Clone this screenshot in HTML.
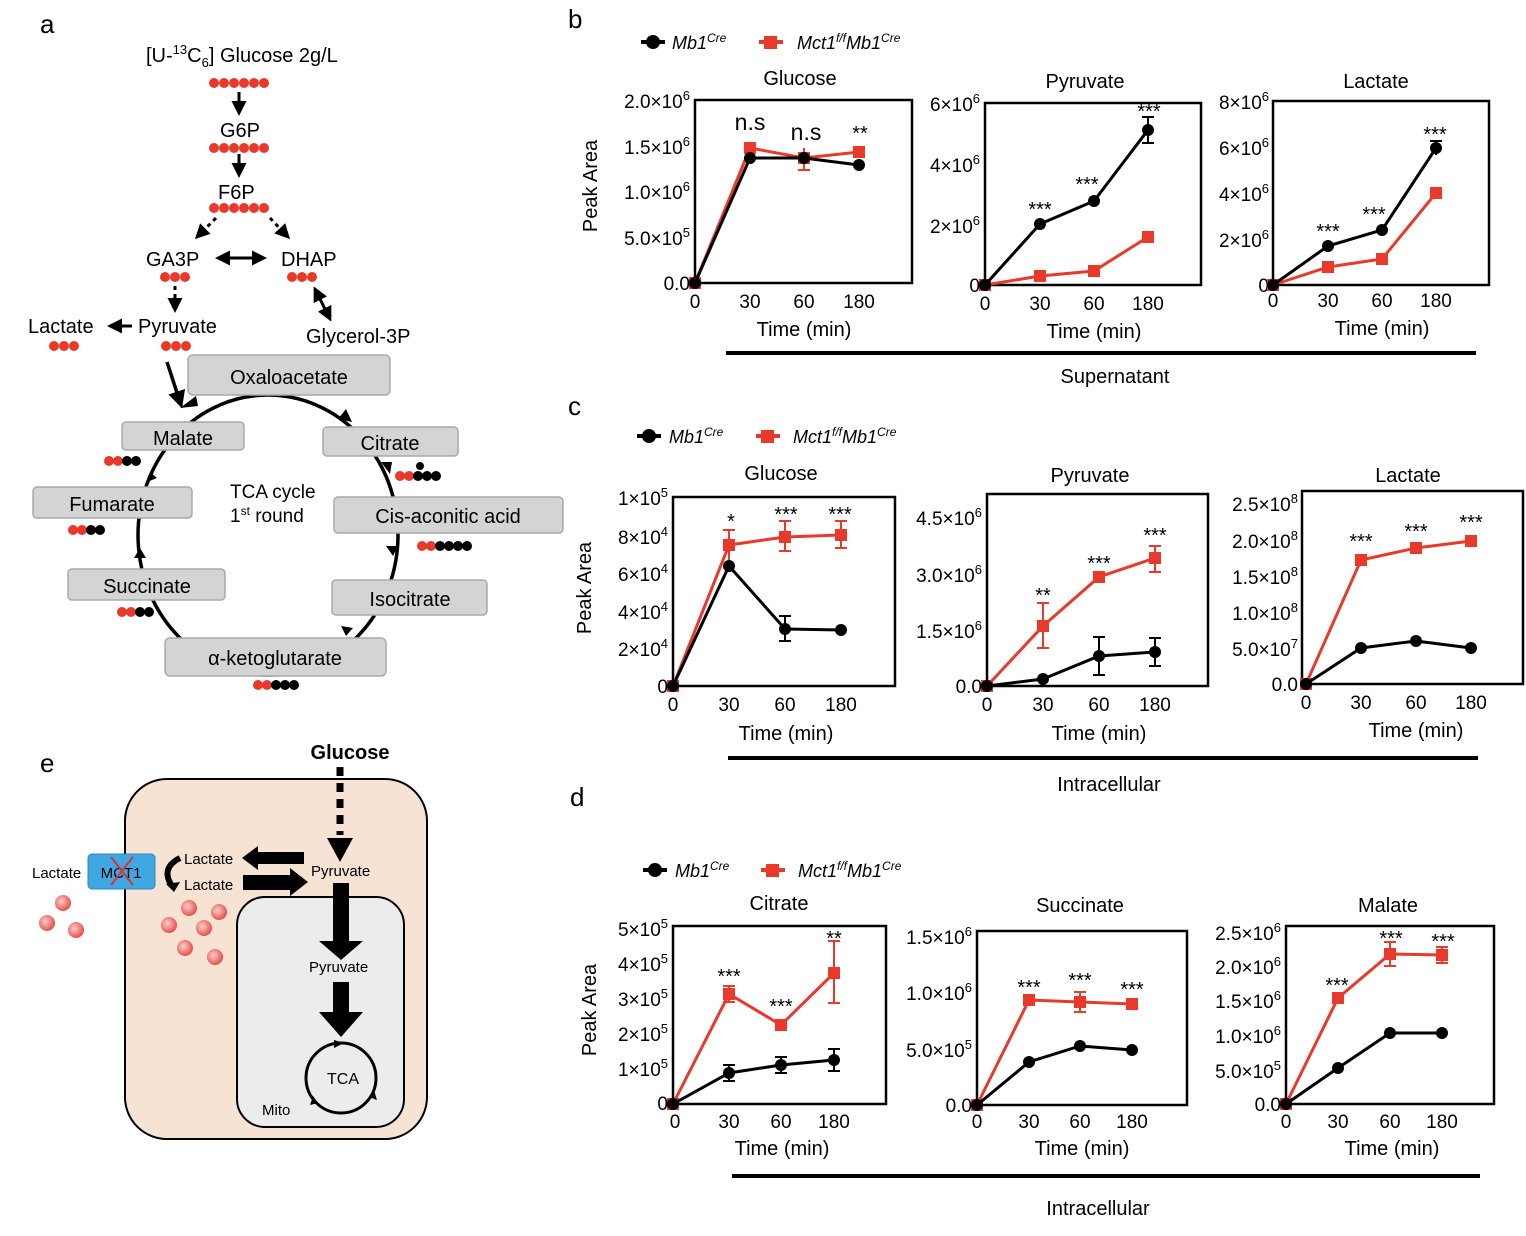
<!DOCTYPE html>
<html><head><meta charset="utf-8"><style>
body{margin:0;background:#fff}
svg{display:block;font-family:"Liberation Sans",Arial,sans-serif}
.t{font-size:20px}
.tk{font-size:19px}
.st{font-size:20px}
.bk{stroke:#000;stroke-width:3;fill:none}
.rd{stroke:#e8392a;stroke-width:3;fill:none}
.eb{stroke:#000;stroke-width:2}
.er{stroke:#e8392a;stroke-width:2}
.fr{fill:none;stroke:#000;stroke-width:2.5}
.box{fill:#d4d4d4;stroke:#aaa;stroke-width:1.5}
</style></head><body>
<svg width="1526" height="1236" viewBox="0 0 1526 1236">
<defs>
<marker id="ah" viewBox="0 0 10 10" refX="8" refY="5" markerWidth="5" markerHeight="5" orient="auto-start-reverse"><path d="M0,0L10,5L0,10z" fill="#000"/></marker>
<radialGradient id="rg" cx="0.4" cy="0.4" r="0.6"><stop offset="0" stop-color="#fbd0cc"/><stop offset="1" stop-color="#e8504a"/></radialGradient>
<g id="r3"><circle cx="0" cy="0" r="5" fill="#e8392a"/><circle cx="10" cy="0" r="5" fill="#e8392a"/><circle cx="20" cy="0" r="5" fill="#e8392a"/></g>
<g id="r6"><use href="#r3"/><use href="#r3" x="30"/></g>
</defs>

<!-- panel a -->
<text x="40" y="33" font-size="26">a</text>
<text x="146" y="62" class="t">[U-<tspan dy="-8" font-size="13">13</tspan><tspan dy="8">C</tspan><tspan dy="5" font-size="13">6</tspan><tspan dy="-5">] Glucose  2g/L</tspan></text>
<use href="#r6" x="214" y="83"/>
<line x1="239" y1="92" x2="239" y2="113" stroke="#000" stroke-width="3" marker-end="url(#ah)"/>
<text x="220" y="137" class="t">G6P</text>
<use href="#r6" x="214" y="148"/>
<line x1="239" y1="154" x2="239" y2="175" stroke="#000" stroke-width="3" marker-end="url(#ah)"/>
<text x="218" y="199" class="t">F6P</text>
<use href="#r6" x="214" y="208"/>
<line x1="216" y1="218" x2="197" y2="237" stroke="#000" stroke-width="3" stroke-dasharray="4,4" marker-end="url(#ah)"/>
<line x1="270" y1="218" x2="288" y2="237" stroke="#000" stroke-width="3" stroke-dasharray="4,4" marker-end="url(#ah)"/>
<text x="146" y="266" class="t">GA3P</text>
<text x="281" y="266" class="t">DHAP</text>
<line x1="218" y1="258" x2="264" y2="258" stroke="#000" stroke-width="3" marker-end="url(#ah)" marker-start="url(#ah)"/>
<use href="#r3" x="165" y="277"/>
<use href="#r3" x="292" y="277"/>
<line x1="175" y1="286" x2="175" y2="310" stroke="#000" stroke-width="3" stroke-dasharray="4,4" marker-end="url(#ah)"/>
<line x1="315" y1="289" x2="330" y2="319" stroke="#000" stroke-width="3" marker-end="url(#ah)" marker-start="url(#ah)"/>
<text x="28" y="333" class="t">Lactate</text>
<text x="138" y="333" class="t">Pyruvate</text>
<line x1="132" y1="326" x2="110" y2="326" stroke="#000" stroke-width="3" marker-end="url(#ah)"/>
<use href="#r3" x="54" y="346"/>
<use href="#r3" x="166" y="346"/>
<text x="306" y="343" class="t">Glycerol-3P</text>
<ellipse cx="268" cy="535" rx="130" ry="140" fill="none" stroke="#000" stroke-width="3.5"/>
<line x1="167" y1="362" x2="181" y2="405" stroke="#000" stroke-width="3.5" marker-end="url(#ah)"/>
<path d="M180,408 l16,-12 l2,10z M352,422 l-14,-3 l8,-10z M390,474 l-9,-12 l11,0z M393,556 l-7,-10 l12,0z M346,636 l-5,-10 l12,2z M140,548 l-6,10 l12,0z M150,472 l-3,10 l10,-4z" fill="#000"/>
<rect x="188" y="355" width="202" height="40" rx="5" class="box"/><text x="289" y="384" class="t" text-anchor="middle">Oxaloacetate</text>
<rect x="122" y="422" width="122" height="28" rx="4" class="box"/><text x="183" y="445" class="t" text-anchor="middle">Malate</text>
<rect x="323" y="427" width="135" height="29" rx="4" class="box"/><text x="390" y="450" class="t" text-anchor="middle">Citrate</text>
<rect x="33" y="487" width="159" height="31" rx="4" class="box"/><text x="112" y="511" class="t" text-anchor="middle">Fumarate</text>
<rect x="334" y="497" width="229" height="36" rx="4" class="box"/><text x="448" y="523" class="t" text-anchor="middle">Cis-aconitic acid</text>
<rect x="68" y="569" width="157" height="31" rx="4" class="box"/><text x="147" y="593" class="t" text-anchor="middle">Succinate</text>
<rect x="332" y="580" width="155" height="35" rx="4" class="box"/><text x="410" y="606" class="t" text-anchor="middle">Isocitrate</text>
<rect x="165" y="638" width="221" height="38" rx="5" class="box"/><text x="275" y="665" class="t" text-anchor="middle">α-ketoglutarate</text>
<text x="230" y="498" font-size="19">TCA cycle</text>
<text x="230" y="522" font-size="19">1<tspan dy="-7" font-size="12">st</tspan><tspan dy="7"> round</tspan></text>
<g fill="#e8392a"><circle cx="109" cy="461" r="5"/><circle cx="118" cy="461" r="5"/><circle cx="73" cy="530" r="5"/><circle cx="82" cy="530" r="5"/><circle cx="122" cy="612" r="5"/><circle cx="131" cy="612" r="5"/><circle cx="258" cy="685" r="5"/><circle cx="267" cy="685" r="5"/><circle cx="400" cy="476" r="5"/><circle cx="409" cy="476" r="5"/><circle cx="422" cy="546" r="5"/><circle cx="431" cy="546" r="5"/></g>
<g fill="#000"><circle cx="127" cy="461" r="5"/><circle cx="136" cy="461" r="5"/><circle cx="91" cy="530" r="5"/><circle cx="100" cy="530" r="5"/><circle cx="140" cy="612" r="5"/><circle cx="149" cy="612" r="5"/><circle cx="276" cy="685" r="5"/><circle cx="285" cy="685" r="5"/><circle cx="294" cy="685" r="5"/><circle cx="420" cy="466" r="4"/><circle cx="418" cy="476" r="5"/><circle cx="427" cy="476" r="5"/><circle cx="436" cy="476" r="5"/><circle cx="440" cy="546" r="5"/><circle cx="449" cy="546" r="5"/><circle cx="458" cy="546" r="5"/><circle cx="467" cy="546" r="5"/></g>

<!-- panel e -->
<text x="40" y="772" font-size="26">e</text>
<rect x="125" y="779" width="302" height="360" rx="42" fill="#f7e3d4" stroke="#000" stroke-width="2"/>
<rect x="237" y="897" width="167" height="230" rx="28" fill="#ececec" stroke="#000" stroke-width="2"/>
<text x="350" y="759" font-size="20" font-weight="bold" text-anchor="middle">Glucose</text>
<line x1="340" y1="767" x2="340" y2="835" stroke="#000" stroke-width="7" stroke-dasharray="9,7"/>
<path d="M327,838 L353,838 L340,862z" fill="#000"/>
<text x="311" y="876" font-size="15">Pyruvate</text>
<text x="309" y="972" font-size="15">Pyruvate</text>
<rect x="333" y="883" width="16" height="58" fill="#000"/><path d="M319,941 L363,941 L341,960z" fill="#000"/>
<rect x="333" y="982" width="16" height="30" fill="#000"/><path d="M319,1012 L363,1012 L341,1037z" fill="#000"/>
<path d="M304,852 L258,852 L258,846 L242,858 L258,870 L258,864 L304,864z" fill="#000"/>
<path d="M243,875 L290,875 L290,868 L308,882 L290,896 L290,890 L243,890z" fill="#000"/>
<text x="184" y="864" font-size="15">Lactate</text>
<text x="184" y="890" font-size="15">Lactate</text>
<path d="M180,858 Q160,868 172,886" fill="none" stroke="#000" stroke-width="6"/><path d="M166,884 l14,-2 l-6,10z" fill="#000"/>
<rect x="88" y="854" width="67" height="35" rx="4" fill="#3fa8e0" stroke="#2a88c0"/>
<text x="121" y="878" font-size="15" text-anchor="middle">MCT1</text>
<path d="M111,857 L133,885 M133,857 L111,885" stroke="#e03030" stroke-width="2"/>
<text x="32" y="878" font-size="15">Lactate</text>
<g fill="url(#rg)"><circle cx="63" cy="903" r="8"/><circle cx="47" cy="923" r="8"/><circle cx="76" cy="930" r="8"/><circle cx="189" cy="908" r="8"/><circle cx="219" cy="912" r="8"/><circle cx="169" cy="925" r="8"/><circle cx="204" cy="928" r="8"/><circle cx="185" cy="948" r="8"/><circle cx="215" cy="957" r="8"/></g>
<circle cx="341" cy="1078" r="35" fill="none" stroke="#000" stroke-width="3"/>
<path d="M334,1040 l10,3 l-10,5z M374,1090 l3,10 l-8,-3z M318,1103 l-8,2 l3,-9z" fill="#000"/>
<text x="343" y="1084" font-size="16" text-anchor="middle">TCA</text>
<text x="262" y="1115" font-size="15">Mito</text>

<!-- panel labels -->
<text x="568" y="28" font-size="26">b</text>
<text x="568" y="415" font-size="26">c</text>
<text x="570" y="806" font-size="26">d</text>

<!-- legends -->
<g font-size="18" font-style="italic">
<line x1="641" y1="42" x2="665" y2="42" stroke="#000" stroke-width="4"/><circle cx="653" cy="42" r="7"/><text x="672" y="49">Mb1<tspan dy="-7" font-size="12">Cre</tspan></text>
<line x1="759" y1="42" x2="783" y2="42" stroke="#e8392a" stroke-width="4"/><rect x="764" y="36" width="13" height="13" fill="#e8392a"/><text x="797" y="49">Mct1<tspan dy="-7" font-size="12">f/f</tspan><tspan dy="7">Mb1</tspan><tspan dy="-7" font-size="12">Cre</tspan></text>
<line x1="637" y1="436" x2="661" y2="436" stroke="#000" stroke-width="4"/><circle cx="649" cy="436" r="7"/><text x="669" y="443">Mb1<tspan dy="-7" font-size="12">Cre</tspan></text>
<line x1="756" y1="436" x2="780" y2="436" stroke="#e8392a" stroke-width="4"/><rect x="761" y="430" width="13" height="13" fill="#e8392a"/><text x="793" y="443">Mct1<tspan dy="-7" font-size="12">f/f</tspan><tspan dy="7">Mb1</tspan><tspan dy="-7" font-size="12">Cre</tspan></text>
<line x1="643" y1="870" x2="667" y2="870" stroke="#000" stroke-width="4"/><circle cx="655" cy="870" r="7"/><text x="675" y="877">Mb1<tspan dy="-7" font-size="12">Cre</tspan></text>
<line x1="761" y1="870" x2="785" y2="870" stroke="#e8392a" stroke-width="4"/><rect x="766" y="864" width="13" height="13" fill="#e8392a"/><text x="798" y="877">Mct1<tspan dy="-7" font-size="12">f/f</tspan><tspan dy="7">Mb1</tspan><tspan dy="-7" font-size="12">Cre</tspan></text>
</g>

<!-- y labels -->
<text transform="translate(597,186) rotate(-90)" class="t" text-anchor="middle">Peak Area</text>
<text transform="translate(591,588) rotate(-90)" class="t" text-anchor="middle">Peak Area</text>
<text transform="translate(596,1010) rotate(-90)" class="t" text-anchor="middle">Peak Area</text>

<!-- bottom bars -->
<line x1="726" y1="353" x2="1476" y2="353" stroke="#000" stroke-width="4"/><text x="1115" y="383" class="t" text-anchor="middle">Supernatant</text>
<line x1="728" y1="758" x2="1478" y2="758" stroke="#000" stroke-width="4"/><text x="1109" y="791" class="t" text-anchor="middle">Intracellular</text>
<line x1="732" y1="1176" x2="1480" y2="1176" stroke="#000" stroke-width="4"/><text x="1098" y="1215" class="t" text-anchor="middle">Intracellular</text>

<!-- ========== B Glucose ========== -->
<rect x="695" y="100" width="217" height="183" class="fr"/>
<text x="800" y="85" class="t" text-anchor="middle">Glucose</text>
<g class="tk" text-anchor="end"><text x="690" y="108">2.0×10<tspan dy="-8" font-size="13">6</tspan></text><text x="690" y="154">1.5×10<tspan dy="-8" font-size="13">6</tspan></text><text x="690" y="199">1.0×10<tspan dy="-8" font-size="13">6</tspan></text><text x="690" y="245">5.0×10<tspan dy="-8" font-size="13">5</tspan></text><text x="690" y="290">0.0</text></g>
<g class="tk" text-anchor="middle"><text x="695" y="308">0</text><text x="750" y="308">30</text><text x="804" y="308">60</text><text x="859" y="308">180</text></g>
<text x="804" y="336" class="t" text-anchor="middle">Time (min)</text>
<text x="750" y="130" font-size="23" text-anchor="middle">n.s</text><text x="806" y="140" font-size="23" text-anchor="middle">n.s</text><text x="860" y="140" class="st" text-anchor="middle">**</text>
<polyline points="695,283 750,148 804,158 859,152" class="rd"/>
<line x1="804" y1="148" x2="804" y2="170" class="er"/><line x1="798" y1="170" x2="810" y2="170" class="er"/>
<g fill="#e8392a"><rect x="689" y="277" width="12" height="12"/><rect x="744" y="142" width="12" height="12"/><rect x="798" y="152" width="12" height="12"/><rect x="853" y="146" width="12" height="12"/></g>
<polyline points="695,283 750,158 804,158 859,165" class="bk"/>
<g><circle cx="695" cy="283" r="6"/><circle cx="750" cy="158" r="6"/><circle cx="804" cy="158" r="6"/><circle cx="859" cy="165" r="6"/></g>

<!-- ========== B Pyruvate ========== -->
<rect x="985" y="103" width="216" height="182" class="fr"/>
<text x="1085" y="88" class="t" text-anchor="middle">Pyruvate</text>
<g class="tk" text-anchor="end"><text x="980" y="111">6×10<tspan dy="-8" font-size="13">6</tspan></text><text x="980" y="172">4×10<tspan dy="-8" font-size="13">6</tspan></text><text x="980" y="233">2×10<tspan dy="-8" font-size="13">6</tspan></text><text x="980" y="292">0</text></g>
<g class="tk" text-anchor="middle"><text x="985" y="310">0</text><text x="1040" y="310">30</text><text x="1094" y="310">60</text><text x="1148" y="310">180</text></g>
<text x="1094" y="338" class="t" text-anchor="middle">Time (min)</text>
<g class="st" text-anchor="middle"><text x="1040" y="216">***</text><text x="1087" y="191">***</text><text x="1149" y="118">***</text></g>
<polyline points="985,285 1040,276 1094,271 1148,237" class="rd"/>
<g fill="#e8392a"><rect x="979" y="279" width="12" height="12"/><rect x="1034" y="270" width="12" height="12"/><rect x="1088" y="265" width="12" height="12"/><rect x="1142" y="231" width="12" height="12"/></g>
<polyline points="985,285 1040,224 1094,201 1148,130" class="bk"/>
<line x1="1148" y1="117" x2="1148" y2="143" class="eb"/><line x1="1142" y1="117" x2="1154" y2="117" class="eb"/><line x1="1142" y1="143" x2="1154" y2="143" class="eb"/>
<g><circle cx="985" cy="285" r="6"/><circle cx="1040" cy="224" r="6"/><circle cx="1094" cy="201" r="6"/><circle cx="1148" cy="130" r="6"/></g>

<!-- ========== B Lactate ========== -->
<rect x="1273" y="101" width="216" height="184" class="fr"/>
<text x="1376" y="88" class="t" text-anchor="middle">Lactate</text>
<g class="tk" text-anchor="end"><text x="1269" y="109">8×10<tspan dy="-8" font-size="13">6</tspan></text><text x="1269" y="155">6×10<tspan dy="-8" font-size="13">6</tspan></text><text x="1269" y="201">4×10<tspan dy="-8" font-size="13">6</tspan></text><text x="1269" y="247">2×10<tspan dy="-8" font-size="13">6</tspan></text><text x="1269" y="292">0</text></g>
<g class="tk" text-anchor="middle"><text x="1273" y="307">0</text><text x="1328" y="307">30</text><text x="1382" y="307">60</text><text x="1436" y="307">180</text></g>
<text x="1382" y="335" class="t" text-anchor="middle">Time (min)</text>
<g class="st" text-anchor="middle"><text x="1328" y="238">***</text><text x="1374" y="221">***</text><text x="1435" y="141">***</text></g>
<polyline points="1273,285 1328,267 1382,259 1436,193" class="rd"/>
<g fill="#e8392a"><rect x="1267" y="279" width="12" height="12"/><rect x="1322" y="261" width="12" height="12"/><rect x="1376" y="253" width="12" height="12"/><rect x="1430" y="187" width="12" height="12"/></g>
<polyline points="1273,285 1328,246 1382,230 1436,148" class="bk"/>
<line x1="1436" y1="141" x2="1436" y2="155" class="eb"/><line x1="1430" y1="141" x2="1442" y2="141" class="eb"/>
<g><circle cx="1273" cy="285" r="6"/><circle cx="1328" cy="246" r="6"/><circle cx="1382" cy="230" r="6"/><circle cx="1436" cy="148" r="6"/></g>

<!-- ========== C Glucose ========== -->
<rect x="673" y="497" width="222" height="189" class="fr"/>
<text x="781" y="480" class="t" text-anchor="middle">Glucose</text>
<g class="tk" text-anchor="end"><text x="668" y="505">1×10<tspan dy="-8" font-size="13">5</tspan></text><text x="668" y="544">8×10<tspan dy="-8" font-size="13">4</tspan></text><text x="668" y="581">6×10<tspan dy="-8" font-size="13">4</tspan></text><text x="668" y="619">4×10<tspan dy="-8" font-size="13">4</tspan></text><text x="668" y="656">2×10<tspan dy="-8" font-size="13">4</tspan></text><text x="668" y="693">0</text></g>
<g class="tk" text-anchor="middle"><text x="673" y="711">0</text><text x="729" y="711">30</text><text x="785" y="711">60</text><text x="841" y="711">180</text></g>
<text x="786" y="740" class="t" text-anchor="middle">Time (min)</text>
<g class="st" text-anchor="middle"><text x="731" y="528">*</text><text x="786" y="521">***</text><text x="840" y="521">***</text></g>
<polyline points="673,686 729,545 785,537 841,535" class="rd"/>
<g class="er"><line x1="729" y1="530" x2="729" y2="560"/><line x1="723" y1="530" x2="735" y2="530"/><line x1="785" y1="521" x2="785" y2="551"/><line x1="779" y1="521" x2="791" y2="521"/><line x1="779" y1="551" x2="791" y2="551"/><line x1="841" y1="521" x2="841" y2="548"/><line x1="835" y1="521" x2="847" y2="521"/><line x1="835" y1="548" x2="847" y2="548"/></g>
<g fill="#e8392a"><rect x="667" y="680" width="12" height="12"/><rect x="723" y="539" width="12" height="12"/><rect x="779" y="531" width="12" height="12"/><rect x="835" y="529" width="12" height="12"/></g>
<polyline points="673,686 729,566 785,629 841,630" class="bk"/>
<g class="eb"><line x1="785" y1="616" x2="785" y2="641"/><line x1="779" y1="616" x2="791" y2="616"/><line x1="779" y1="641" x2="791" y2="641"/></g>
<g><circle cx="673" cy="686" r="6"/><circle cx="729" cy="566" r="6"/><circle cx="785" cy="629" r="6"/><circle cx="841" cy="630" r="6"/></g>

<!-- ========== C Pyruvate ========== -->
<rect x="987" y="494" width="221" height="192" class="fr"/>
<text x="1090" y="482" class="t" text-anchor="middle">Pyruvate</text>
<g class="tk" text-anchor="end"><text x="982" y="525">4.5×10<tspan dy="-8" font-size="13">6</tspan></text><text x="982" y="582">3.0×10<tspan dy="-8" font-size="13">6</tspan></text><text x="982" y="638">1.5×10<tspan dy="-8" font-size="13">6</tspan></text><text x="982" y="693">0.0</text></g>
<g class="tk" text-anchor="middle"><text x="987" y="711">0</text><text x="1043" y="711">30</text><text x="1099" y="711">60</text><text x="1155" y="711">180</text></g>
<text x="1099" y="740" class="t" text-anchor="middle">Time (min)</text>
<g class="st" text-anchor="middle"><text x="1043" y="602">**</text><text x="1099" y="570">***</text><text x="1155" y="542">***</text></g>
<polyline points="987,686 1043,626 1099,577 1155,558" class="rd"/>
<g class="er"><line x1="1043" y1="603" x2="1043" y2="648"/><line x1="1037" y1="603" x2="1049" y2="603"/><line x1="1037" y1="648" x2="1049" y2="648"/><line x1="1155" y1="546" x2="1155" y2="572"/><line x1="1149" y1="546" x2="1161" y2="546"/><line x1="1149" y1="572" x2="1161" y2="572"/></g>
<g fill="#e8392a"><rect x="981" y="680" width="12" height="12"/><rect x="1037" y="620" width="12" height="12"/><rect x="1093" y="571" width="12" height="12"/><rect x="1149" y="552" width="12" height="12"/></g>
<polyline points="987,686 1043,679 1099,656 1155,652" class="bk"/>
<g class="eb"><line x1="1099" y1="637" x2="1099" y2="675"/><line x1="1093" y1="637" x2="1105" y2="637"/><line x1="1093" y1="675" x2="1105" y2="675"/><line x1="1155" y1="638" x2="1155" y2="666"/><line x1="1149" y1="638" x2="1161" y2="638"/><line x1="1149" y1="666" x2="1161" y2="666"/></g>
<g><circle cx="987" cy="686" r="6"/><circle cx="1043" cy="679" r="6"/><circle cx="1099" cy="656" r="6"/><circle cx="1155" cy="652" r="6"/></g>

<!-- ========== C Lactate ========== -->
<rect x="1302" y="491" width="221" height="193" class="fr"/>
<text x="1408" y="482" class="t" text-anchor="middle">Lactate</text>
<g class="tk" text-anchor="end"><text x="1298" y="511">2.5×10<tspan dy="-8" font-size="13">8</tspan></text><text x="1298" y="548">2.0×10<tspan dy="-8" font-size="13">8</tspan></text><text x="1298" y="584">1.5×10<tspan dy="-8" font-size="13">8</tspan></text><text x="1298" y="620">1.0×10<tspan dy="-8" font-size="13">8</tspan></text><text x="1298" y="656">5.0×10<tspan dy="-8" font-size="13">7</tspan></text><text x="1298" y="691">0.0</text></g>
<g class="tk" text-anchor="middle"><text x="1306" y="709">0</text><text x="1361" y="709">30</text><text x="1416" y="709">60</text><text x="1471" y="709">180</text></g>
<text x="1416" y="737" class="t" text-anchor="middle">Time (min)</text>
<g class="st" text-anchor="middle"><text x="1361" y="548">***</text><text x="1416" y="538">***</text><text x="1471" y="529">***</text></g>
<polyline points="1306,684 1361,560 1416,548 1471,541" class="rd"/>
<g fill="#e8392a"><rect x="1300" y="678" width="12" height="12"/><rect x="1355" y="554" width="12" height="12"/><rect x="1410" y="542" width="12" height="12"/><rect x="1465" y="535" width="12" height="12"/></g>
<polyline points="1306,684 1361,648 1416,641 1471,648" class="bk"/>
<g><circle cx="1306" cy="684" r="6"/><circle cx="1361" cy="648" r="6"/><circle cx="1416" cy="641" r="6"/><circle cx="1471" cy="648" r="6"/></g>

<!-- ========== D Citrate ========== -->
<rect x="673" y="926" width="213" height="178" class="fr"/>
<text x="779" y="910" class="t" text-anchor="middle">Citrate</text>
<g class="tk" text-anchor="end"><text x="668" y="936">5×10<tspan dy="-8" font-size="13">5</tspan></text><text x="668" y="971">4×10<tspan dy="-8" font-size="13">5</tspan></text><text x="668" y="1006">3×10<tspan dy="-8" font-size="13">5</tspan></text><text x="668" y="1041">2×10<tspan dy="-8" font-size="13">5</tspan></text><text x="668" y="1076">1×10<tspan dy="-8" font-size="13">5</tspan></text><text x="668" y="1110">0</text></g>
<g class="tk" text-anchor="middle"><text x="675" y="1128">0</text><text x="729" y="1128">30</text><text x="781" y="1128">60</text><text x="834" y="1128">180</text></g>
<text x="782" y="1155" class="t" text-anchor="middle">Time (min)</text>
<g class="st" text-anchor="middle"><text x="729" y="983">***</text><text x="781" y="1013">***</text><text x="834" y="945">**</text></g>
<polyline points="673,1104 729,994 781,1025 834,973" class="rd"/>
<g class="er"><line x1="729" y1="986" x2="729" y2="1002"/><line x1="723" y1="986" x2="735" y2="986"/><line x1="723" y1="1002" x2="735" y2="1002"/><line x1="834" y1="941" x2="834" y2="1003"/><line x1="828" y1="941" x2="840" y2="941"/><line x1="828" y1="1003" x2="840" y2="1003"/></g>
<g fill="#e8392a"><rect x="667" y="1098" width="12" height="12"/><rect x="723" y="988" width="12" height="12"/><rect x="775" y="1019" width="12" height="12"/><rect x="828" y="967" width="12" height="12"/></g>
<polyline points="673,1104 729,1073 781,1065 834,1060" class="bk"/>
<g class="eb"><line x1="729" y1="1065" x2="729" y2="1081"/><line x1="723" y1="1065" x2="735" y2="1065"/><line x1="723" y1="1081" x2="735" y2="1081"/><line x1="781" y1="1057" x2="781" y2="1073"/><line x1="775" y1="1057" x2="787" y2="1057"/><line x1="775" y1="1073" x2="787" y2="1073"/><line x1="834" y1="1049" x2="834" y2="1071"/><line x1="828" y1="1049" x2="840" y2="1049"/><line x1="828" y1="1071" x2="840" y2="1071"/></g>
<g><circle cx="673" cy="1104" r="6"/><circle cx="729" cy="1073" r="6"/><circle cx="781" cy="1065" r="6"/><circle cx="834" cy="1060" r="6"/></g>

<!-- ========== D Succinate ========== -->
<rect x="977" y="931" width="210" height="174" class="fr"/>
<text x="1080" y="912" class="t" text-anchor="middle">Succinate</text>
<g class="tk" text-anchor="end"><text x="972" y="944">1.5×10<tspan dy="-8" font-size="13">6</tspan></text><text x="972" y="1000">1.0×10<tspan dy="-8" font-size="13">6</tspan></text><text x="972" y="1057">5.0×10<tspan dy="-8" font-size="13">5</tspan></text><text x="972" y="1112">0.0</text></g>
<g class="tk" text-anchor="middle"><text x="977" y="1128">0</text><text x="1029" y="1128">30</text><text x="1080" y="1128">60</text><text x="1132" y="1128">180</text></g>
<text x="1082" y="1155" class="t" text-anchor="middle">Time (min)</text>
<g class="st" text-anchor="middle"><text x="1029" y="994">***</text><text x="1080" y="987">***</text><text x="1132" y="996">***</text></g>
<polyline points="977,1105 1029,1000 1080,1002 1132,1004" class="rd"/>
<g class="er"><line x1="1080" y1="992" x2="1080" y2="1012"/><line x1="1074" y1="992" x2="1086" y2="992"/><line x1="1074" y1="1012" x2="1086" y2="1012"/></g>
<g fill="#e8392a"><rect x="971" y="1099" width="12" height="12"/><rect x="1023" y="994" width="12" height="12"/><rect x="1074" y="996" width="12" height="12"/><rect x="1126" y="998" width="12" height="12"/></g>
<polyline points="977,1105 1029,1062 1080,1046 1132,1050" class="bk"/>
<g><circle cx="977" cy="1105" r="6"/><circle cx="1029" cy="1062" r="6"/><circle cx="1080" cy="1046" r="6"/><circle cx="1132" cy="1050" r="6"/></g>

<!-- ========== D Malate ========== -->
<rect x="1286" y="926" width="208" height="178" class="fr"/>
<text x="1388" y="912" class="t" text-anchor="middle">Malate</text>
<g class="tk" text-anchor="end"><text x="1281" y="940">2.5×10<tspan dy="-8" font-size="13">6</tspan></text><text x="1281" y="974">2.0×10<tspan dy="-8" font-size="13">6</tspan></text><text x="1281" y="1008">1.5×10<tspan dy="-8" font-size="13">6</tspan></text><text x="1281" y="1043">1.0×10<tspan dy="-8" font-size="13">6</tspan></text><text x="1281" y="1078">5.0×10<tspan dy="-8" font-size="13">5</tspan></text><text x="1281" y="1111">0.0</text></g>
<g class="tk" text-anchor="middle"><text x="1286" y="1128">0</text><text x="1338" y="1128">30</text><text x="1390" y="1128">60</text><text x="1442" y="1128">180</text></g>
<text x="1392" y="1155" class="t" text-anchor="middle">Time (min)</text>
<g class="st" text-anchor="middle"><text x="1337" y="992">***</text><text x="1391" y="945">***</text><text x="1443" y="948">***</text></g>
<polyline points="1286,1104 1338,998 1390,954 1442,955" class="rd"/>
<g class="er"><line x1="1390" y1="942" x2="1390" y2="966"/><line x1="1384" y1="942" x2="1396" y2="942"/><line x1="1384" y1="966" x2="1396" y2="966"/><line x1="1442" y1="947" x2="1442" y2="963"/><line x1="1436" y1="947" x2="1448" y2="947"/><line x1="1436" y1="963" x2="1448" y2="963"/></g>
<g fill="#e8392a"><rect x="1280" y="1098" width="12" height="12"/><rect x="1332" y="992" width="12" height="12"/><rect x="1384" y="948" width="12" height="12"/><rect x="1436" y="949" width="12" height="12"/></g>
<polyline points="1286,1104 1338,1068 1390,1033 1442,1033" class="bk"/>
<g><circle cx="1286" cy="1104" r="6"/><circle cx="1338" cy="1068" r="6"/><circle cx="1390" cy="1033" r="6"/><circle cx="1442" cy="1033" r="6"/></g>
</svg>
</body></html>
